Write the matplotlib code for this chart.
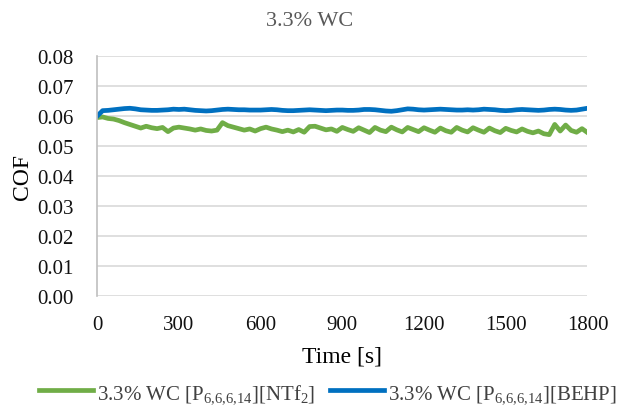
import numpy as np
import matplotlib
matplotlib.use('Agg')
import matplotlib.pyplot as plt

plt.rcParams['font.family'] = ['Liberation Serif', 'DejaVu Serif']
plt.rcParams['mathtext.fontset'] = 'custom'
plt.rcParams['mathtext.rm'] = 'Liberation Serif'
plt.rcParams['mathtext.it'] = 'Liberation Serif'

# Datos
time = np.arange(0, 1801, 20)

cof_ntf2 = [0.0595, 0.0597, 0.0592, 0.0590, 0.0585, 0.0578, 0.0572, 0.0566, 0.0560, 0.0566,
            0.0561, 0.0558, 0.0562, 0.0548, 0.0560, 0.0563, 0.0560, 0.0557, 0.0553, 0.0557,
            0.0552, 0.0550, 0.0553, 0.0578, 0.0568, 0.0563, 0.0558, 0.0553, 0.0557, 0.0550,
            0.0558, 0.0563, 0.0557, 0.0553, 0.0548, 0.0553, 0.0547, 0.0555, 0.0546, 0.0565,
            0.0566, 0.0560, 0.0554, 0.0557, 0.0549, 0.0562, 0.0555, 0.0549, 0.0561, 0.0553,
            0.0545, 0.0562, 0.0553, 0.0548, 0.0563, 0.0554, 0.0547, 0.0562, 0.0555, 0.0548,
            0.0561, 0.0553, 0.0546, 0.0560, 0.0551, 0.0546, 0.0562, 0.0553, 0.0547, 0.0561,
            0.0553, 0.0546, 0.0560, 0.0551, 0.0545, 0.0559, 0.0552, 0.0547, 0.0557, 0.0549,
            0.0544, 0.0550, 0.0541, 0.0538, 0.0572, 0.0550, 0.0570, 0.0552, 0.0546, 0.0558,
            0.0545]

cof_behp = [0.0600, 0.0618, 0.0619, 0.0621, 0.0623, 0.0625, 0.0626, 0.0624, 0.0621, 0.0620,
            0.0619, 0.0619, 0.0620, 0.0621, 0.0623, 0.0622, 0.0623, 0.0621, 0.0619, 0.0618,
            0.0617, 0.0618, 0.0620, 0.0622, 0.0623, 0.0622, 0.0621, 0.0621, 0.0620, 0.0620,
            0.0620, 0.0621, 0.0622, 0.0621, 0.0619, 0.0618, 0.0618, 0.0619, 0.0620, 0.0621,
            0.0620, 0.0619, 0.0618, 0.0619, 0.0620, 0.0620, 0.0619, 0.0619, 0.0620, 0.0622,
            0.0622, 0.0621, 0.0619, 0.0617, 0.0616, 0.0618, 0.0621, 0.0624, 0.0623, 0.0621,
            0.0620, 0.0621, 0.0622, 0.0623, 0.0622, 0.0621, 0.0620, 0.0620, 0.0621, 0.0620,
            0.0621, 0.0623, 0.0622, 0.0621, 0.0619, 0.0618, 0.0619, 0.0621, 0.0622, 0.0621,
            0.0620, 0.0619, 0.0620, 0.0622, 0.0623, 0.0622, 0.0620, 0.0619, 0.0620, 0.0623,
            0.0626]

labels = [r'3.3% WC [P$_{6{,}6{,}6{,}14}$][NTf$_2$]', r'3.3% WC [P$_{6{,}6{,}6{,}14}$][BEHP]']
colors = ['#70AD47', '#0070C0']

xticks = [0, 300, 600, 900, 1200, 1500, 1800]
yticks = [0.00, 0.01, 0.02, 0.03, 0.04, 0.05, 0.06, 0.07, 0.08]

fig = plt.figure(figsize=(6.19, 4.14), dpi=100)
ax = fig.add_axes([0.157, 0.283, 0.792, 0.579])

ax.plot(time, cof_ntf2, color=colors[0], lw=3.4, label=labels[0], solid_joinstyle='round')
ax.plot(time, cof_behp, color=colors[1], lw=3.4, label=labels[1], solid_joinstyle='round')

ax.set_xlim(0, 1800)
ax.set_ylim(0, 0.08)
ax.set_xticks(xticks)
ax.set_yticks(yticks)
ax.set_yticklabels(['%.2f' % v for v in yticks])
ax.tick_params(length=0, labelsize=15, colors='#111111')
ax.tick_params(axis='x', pad=14)
ax.tick_params(axis='y', pad=17)
ax.grid(axis='y', color='#D9D9D9', lw=1.2)
ax.set_axisbelow(True)
for s in ['top', 'right', 'bottom']:
    ax.spines[s].set_visible(False)
ax.spines['left'].set_color('#BFBFBF')
ax.spines['left'].set_linewidth(1.2)

fig.text(0.5, 0.949, '3.3% WC', fontsize=16, color='#595959', ha='center', va='center')
ax.set_xlabel('Time [s]', fontsize=17, labelpad=8)
ax.set_ylabel('COF', fontsize=17, labelpad=3)

fig.legend(loc='center', bbox_to_anchor=(0.53, 0.048), ncol=2, frameon=False,
           fontsize=15, handlelength=2.6, columnspacing=0.7, handletextpad=0.2,
           labelcolor='#404040')

fig.savefig('out.png', dpi=100)
